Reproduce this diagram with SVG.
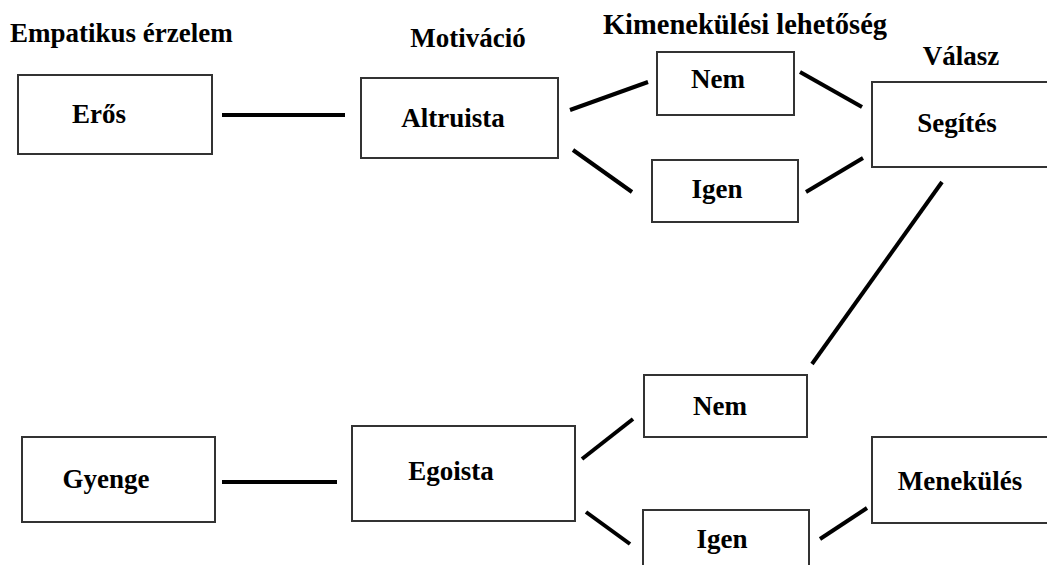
<svg xmlns="http://www.w3.org/2000/svg" width="1047" height="565" viewBox="0 0 1047 565">
<style>
.box{fill:#fff;stroke:#333;stroke-width:2}
.t{font-family:"Liberation Serif","Times New Roman",serif;font-weight:bold;font-size:27px;fill:#000;text-anchor:middle}
.h{font-family:"Liberation Serif","Times New Roman",serif;font-weight:bold;font-size:27px;fill:#000}
.c{stroke:#000;stroke-width:4;fill:none}
</style>
<rect width="1047" height="565" fill="#fff"/>
<g id="headers">
<text class="h" x="10" y="42">Empatikus érzelem</text>
<text class="t" x="468" y="47">Motiváció</text>
<text class="t" x="745" y="34" style="font-size:28.5px">Kimenekülési lehetőség</text>
<text class="t" x="961" y="65">Válasz</text>
</g>
<g id="connectors">
<line class="c" x1="222" y1="115" x2="345" y2="115"/>
<line class="c" x1="570" y1="110" x2="648" y2="82"/>
<line class="c" x1="573" y1="150" x2="632" y2="192"/>
<line class="c" x1="800" y1="72" x2="862" y2="107"/>
<line class="c" x1="806" y1="192" x2="863" y2="158"/>
<line class="c" x1="942" y1="182" x2="812" y2="364"/>
<line class="c" x1="222" y1="482" x2="337" y2="482"/>
<line class="c" x1="582" y1="459" x2="633" y2="419"/>
<line class="c" x1="586" y1="512" x2="630" y2="544"/>
<line class="c" x1="820" y1="539" x2="867" y2="508"/>
</g>
<g id="eros"><rect class="box" x="18" y="75" width="194" height="79"/><text class="t" x="99" y="123">Erős</text></g>
<g id="altruista"><rect class="box" x="361" y="78" width="197" height="80"/><text class="t" x="453" y="127">Altruista</text></g>
<g id="nem1"><rect class="box" x="657" y="52" width="137" height="63"/><text class="t" x="718" y="88">Nem</text></g>
<g id="igen1"><rect class="box" x="652" y="160" width="146" height="62"/><text class="t" x="717" y="198">Igen</text></g>
<g id="segites"><rect class="box" x="872" y="82" width="180" height="85"/><text class="t" x="957" y="132">Segítés</text></g>
<g id="gyenge"><rect class="box" x="22" y="437" width="193" height="85"/><text class="t" x="106" y="488">Gyenge</text></g>
<g id="egoista"><rect class="box" x="352" y="426" width="223" height="95"/><text class="t" x="451" y="480">Egoista</text></g>
<g id="nem2"><rect class="box" x="644" y="375" width="163" height="62"/><text class="t" x="720" y="415">Nem</text></g>
<g id="igen2"><rect class="box" x="643" y="510" width="166" height="70"/><text class="t" x="722" y="548">Igen</text></g>
<g id="menekules"><rect class="box" x="872" y="437" width="180" height="86"/><text class="t" x="960" y="490">Menekülés</text></g>
</svg>
